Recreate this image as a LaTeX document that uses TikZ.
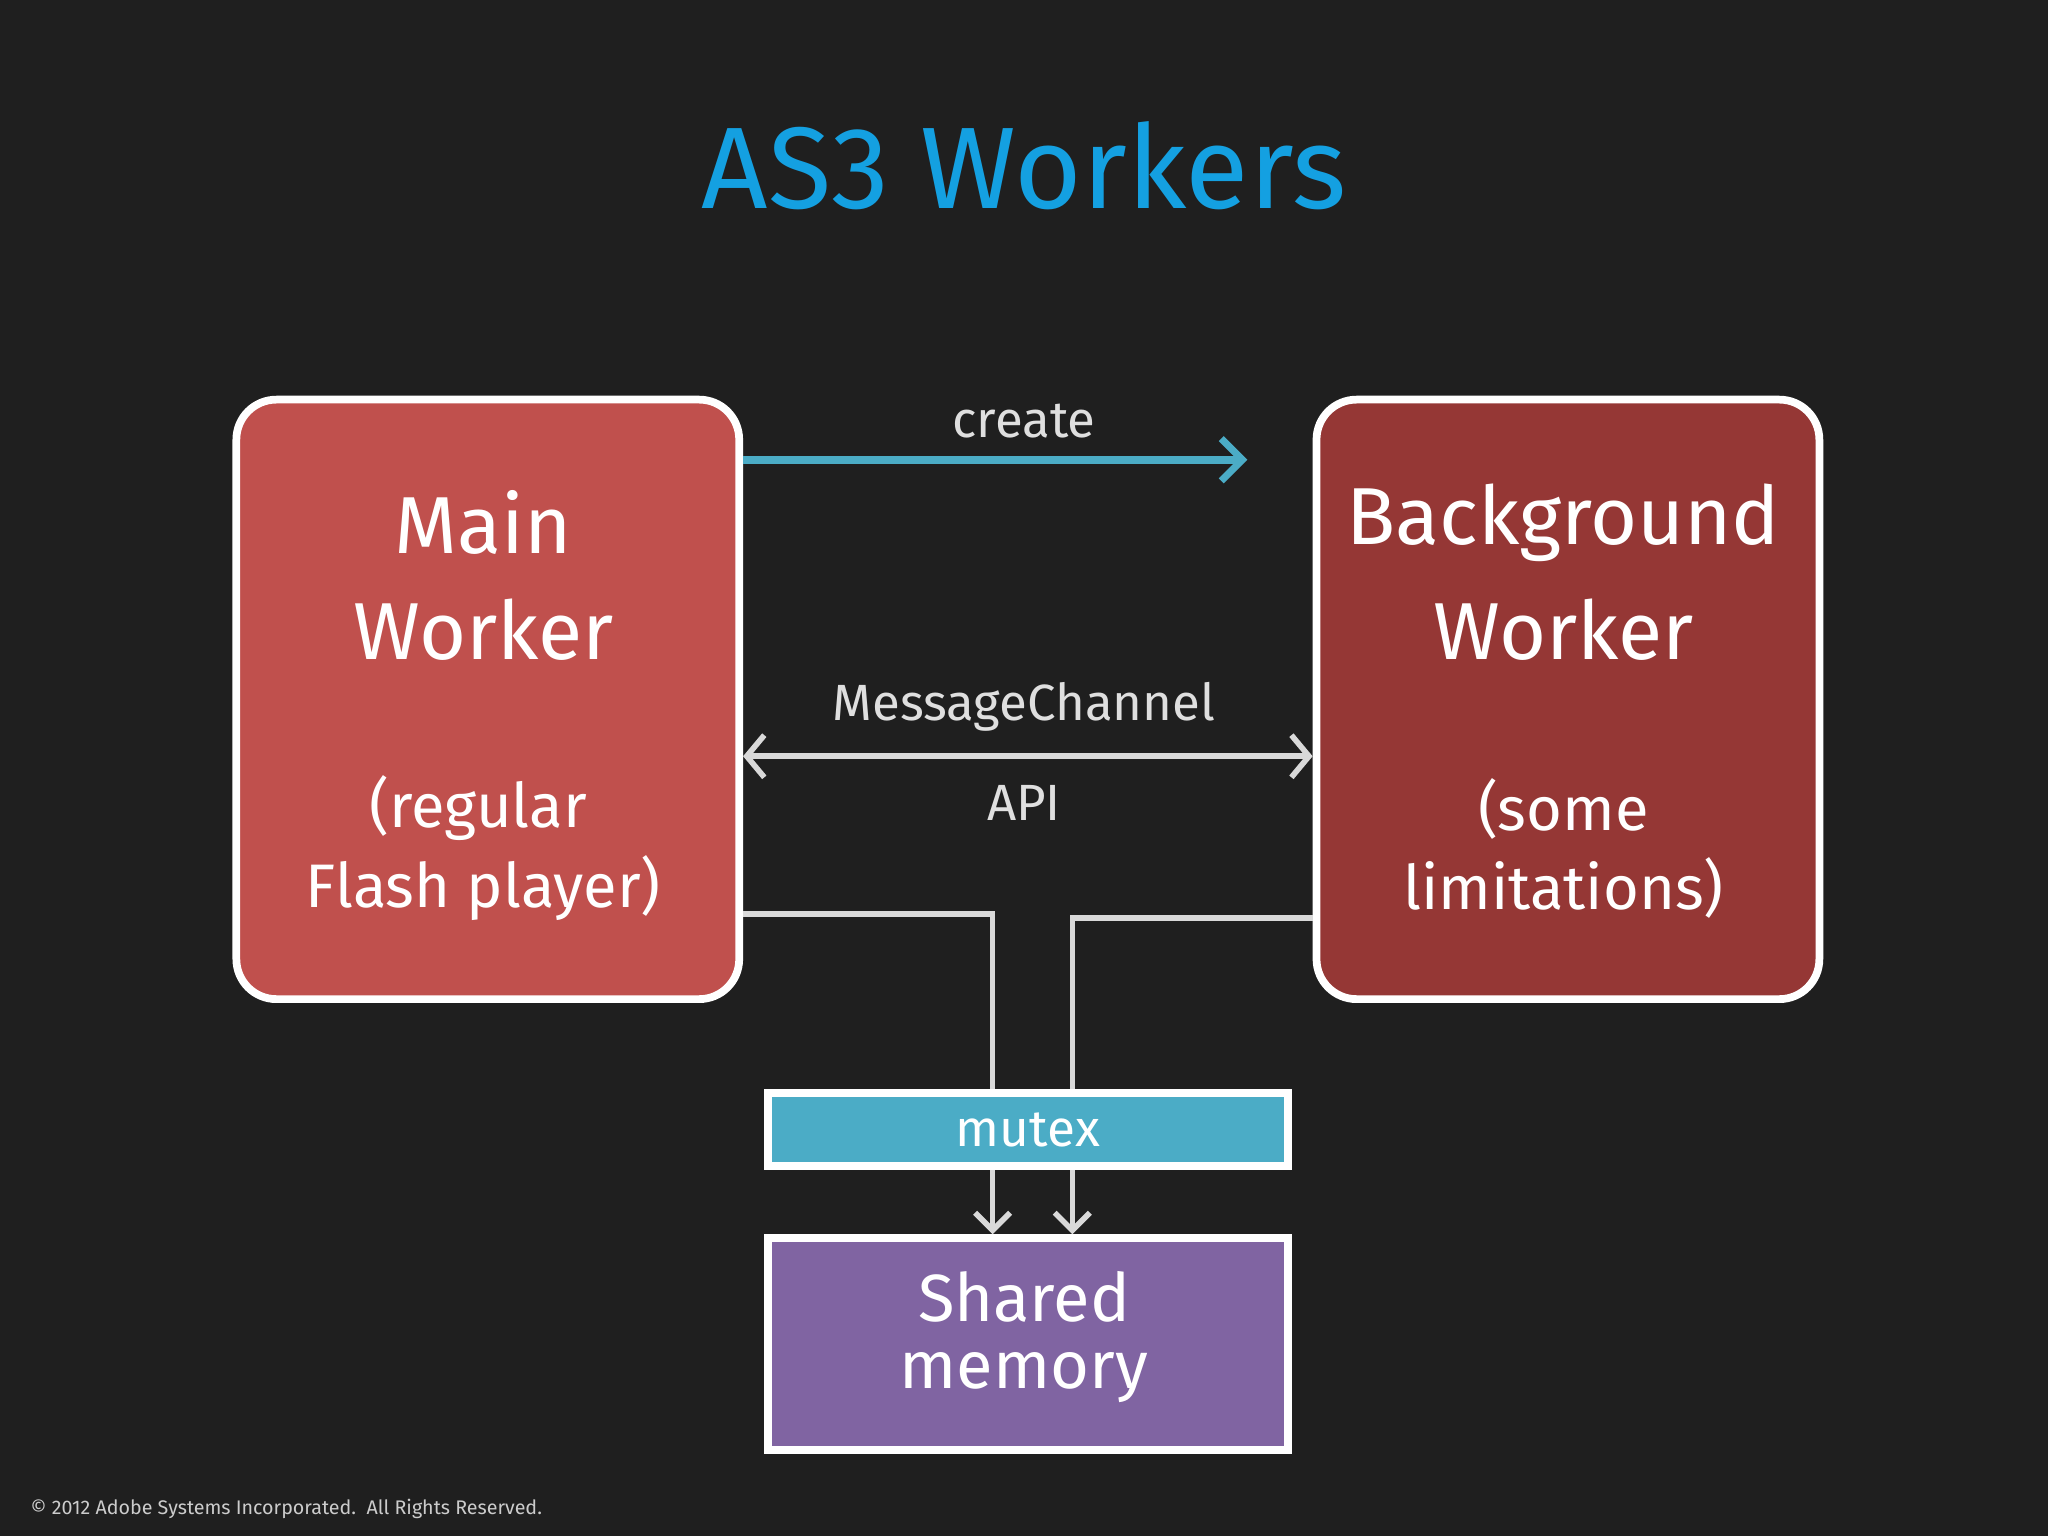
\documentclass[tikz,border=0pt]{standalone}
\usepackage{fontspec}
\setmainfont{Fira Sans}
\usetikzlibrary{arrows.meta}
\begin{document}
\begin{tikzpicture}[x=0.013061cm,y=-0.013061cm,
  box/.style={draw=white,line width=2.2pt,rounded corners=0.4cm},
  sq/.style={draw=white,line width=2.2pt},
  wl/.style={draw=gray!30,line width=1.6pt},
  tip/.style={-{Straight Barb[length=5pt,width=10pt,line width=1.6pt]}},
  big/.style={text=white,inner sep=0pt,font=\fontsize{23}{28}\selectfont},
  sub/.style={text=white,inner sep=0pt,font=\fontsize{17.5}{21}\selectfont},
  mid/.style={text=white,inner sep=0pt,font=\fontsize{19}{23}\selectfont},
  lab/.style={text=gray!25,font=\fontsize{14.5}{18}\selectfont}]
\fill[black!88] (0,0) rectangle (1568,1176);
\useasboundingbox (0,0) rectangle (1568,1176);
\node (title) at (784,127) {\color[RGB]{20,160,225}\fontsize{33}{40}\selectfont AS3 Workers};
% boxes
\node[box,fill={rgb,255:red,192;green,80;blue,77},minimum width=385*0.013061cm,minimum height=459*0.013061cm,anchor=north west] (main) at (178,303) {};
\node[box,fill={rgb,255:red,149;green,55;blue,53},minimum width=385*0.013061cm,minimum height=459*0.013061cm,anchor=north west] (bg) at (1005,303) {};
\node[big] at (370,400) {Main};
\node[big] at (370,482) {Worker};
\node[sub] at (366,619) {(regular};
\node[sub] at (370,680) {Flash player)};
\node[big] at (1197,400) {Background};
\node[big] at (1197,482) {Worker};
\node[sub] at (1197,619) {(some};
\node[sub] at (1197,680) {limitations)};
% create
\coordinate (cend) at (955,352);
\draw[line width=2.2pt,draw={rgb,255:red,75;green,172;blue,198},-{Straight Barb[length=6pt,width=12pt,line width=2pt]}] (main.east|-cend) -- (cend);
\node[lab] at (784,322) {create};
% message channel
\coordinate (mc) at (784,579);
\draw[wl,{Straight Barb[length=5pt,width=12pt,line width=1.6pt]}-{Straight Barb[length=5pt,width=12pt,line width=1.6pt]}] (main.east|-mc) -- (bg.west|-mc);
\node[lab] at (784,541) {MessageChannel};
\node[lab] at (784,615) {API};
% memory
\node[sq,fill={rgb,255:red,128;green,100;blue,162},minimum width=398*0.013061cm,minimum height=162*0.013061cm,anchor=north west] (mem) at (585,945) {};
\node[mid] at (784,993) {Shared};
\node[mid] at (784,1055) {memory};
\coordinate (l1) at (760,700);
\coordinate (l2) at (821,703);
\draw[wl,tip] (main.east|-l1) -- (l1) -- (l1|-mem.north);
\draw[wl,tip] (bg.west|-l2) -- (l2) -- (l2|-mem.north);
\node[sq,fill={rgb,255:red,75;green,172;blue,198},minimum width=398*0.013061cm,minimum height=56*0.013061cm,anchor=north west] (mutex) at (585,834) {};
\node[text=white,font=\fontsize{14.6}{18}\selectfont] at (mutex) {mutex};
\node[anchor=west,text=gray!40,font=\fontsize{5.6}{7}\selectfont] (foot) at (14,1155) {© 2012 Adobe Systems Incorporated.\ \ All Rights Reserved.};
\end{tikzpicture}
\end{document}
